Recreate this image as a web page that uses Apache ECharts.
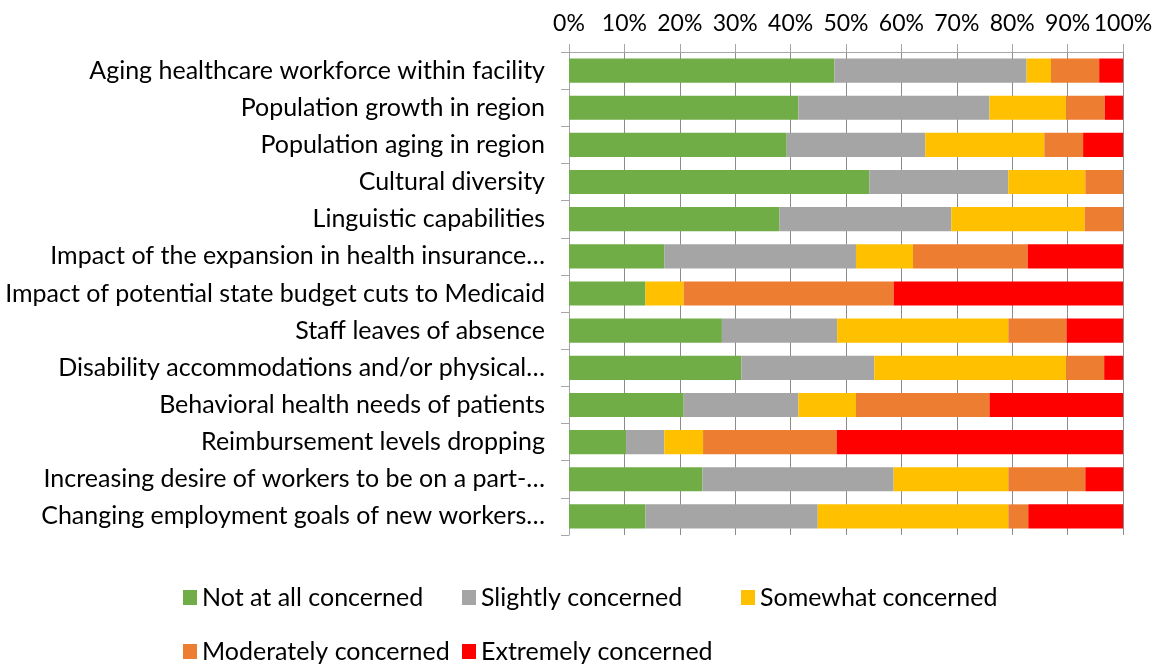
<!DOCTYPE html>
<html>
<head>
<meta charset="utf-8">
<title>Workforce concerns</title>
<script src="https://cdn.jsdelivr.net/npm/echarts@6/dist/echarts.min.js"></script>
<style>
  html, body { margin: 0; padding: 0; background: #fff; }
  #chart { width: 1162px; height: 669px; }
</style>
</head>
<body>
<div id="chart"></div>
<script>
// categories, top to bottom
const categories = [
  'Aging healthcare workforce within facility',
  'Population growth in region',
  'Population aging in region',
  'Cultural diversity',
  'Linguistic capabilities',
  'Impact of the expansion in health insurance…',
  'Impact of potential state budget cuts to Medicaid',
  'Staff leaves of absence',
  'Disability accommodations and/or physical…',
  'Behavioral health needs of patients',
  'Reimbursement levels dropping',
  'Increasing desire of workers to be on a part-…',
  'Changing employment goals of new workers…'
]

// share of respondents (%) per level of concern
const notAtAll = [47.9, 41.4, 39.3, 54.2, 38.0, 17.2, 13.8, 27.6, 31.1, 20.7, 10.3, 24.1, 13.8]
const slightly = [34.7, 34.5, 25.0, 25.1, 31.0, 34.6, 0, 20.8, 24.0, 20.7, 6.9, 34.5, 31.1]
const somewhat = [4.4, 13.8, 21.5, 13.9, 24.1, 10.3, 6.9, 30.9, 34.6, 10.4, 7.0, 20.7, 34.4]
const moderately = [8.7, 7.0, 7.0, 6.8, 6.9, 20.7, 37.9, 10.5, 6.9, 24.1, 24.1, 13.9, 3.6]
const extremely = [4.3, 3.3, 7.2, 0, 0, 17.2, 41.4, 10.2, 3.4, 24.1, 51.7, 6.8, 17.1]

const seriesNames = [
  'Not at all concerned',
  'Slightly concerned',
  'Somewhat concerned',
  'Moderately concerned',
  'Extremely concerned'
]
const seriesData = [notAtAll, slightly, somewhat, moderately, extremely]
const colors = ['#70ad47', '#a5a5a5', '#ffc000', '#ed7d31', '#ff0000']

const fontFamily = 'Lato, "Open Sans", sans-serif'
const fontSize = 25

// legend slots: [left, top] for each item, two rows like the original
const legendSlots = [[178, 580], [457, 580], [736, 580], [178, 634], [457, 634]]

const chart = echarts.init(document.getElementById('chart'), null, { renderer: 'canvas' })

chart.setOption({
  animation: false,
  color: colors,
  grid: {
    left: 569,
    right: 39,
    top: 52,
    bottom: 134
  },
  /* one legend per item so the columns line up */
  legend: seriesNames.map((name, i) => ({
    left: legendSlots[i][0],
    top: legendSlots[i][1],
    data: [name],
    icon: 'rect',
    itemWidth: 14,
    itemHeight: 15,
    textStyle: {
      fontFamily: fontFamily,
      fontSize: fontSize,
      color: '#000'
    }
  })),
  xAxis: {
    type: 'value',
    position: 'top',
    min: 0,
    max: 100,
    interval: 10,
    axisLine: { show: true, lineStyle: { color: '#a6a6a6', width: 1 } },
    axisTick: { show: true, length: 8, lineStyle: { color: '#a6a6a6' } },
    axisLabel: {
      formatter: '{value}%',
      fontFamily: fontFamily,
      fontSize: 23,
      color: '#000',
      margin: 17,
      showMinLabel: true,
      showMaxLabel: true
    },
    splitLine: { show: true, lineStyle: { color: '#8c8c8c', width: 1 } }
  },
  yAxis: {
    type: 'category',
    inverse: true,
    data: categories,
    axisLine: { show: true, lineStyle: { color: '#a6a6a6', width: 1 } },
    axisTick: { show: true, length: 8, lineStyle: { color: '#a6a6a6' } },
    axisLabel: {
      fontFamily: fontFamily,
      fontSize: fontSize,
      color: '#000',
      margin: 24
    }
  },
  series: seriesNames.map((name, i) => ({
    name: name,
    type: 'bar',
    stack: 'total',
    barCategoryGap: '35%',
    data: seriesData[i]
  }))
})
</script>
</body>
</html>
